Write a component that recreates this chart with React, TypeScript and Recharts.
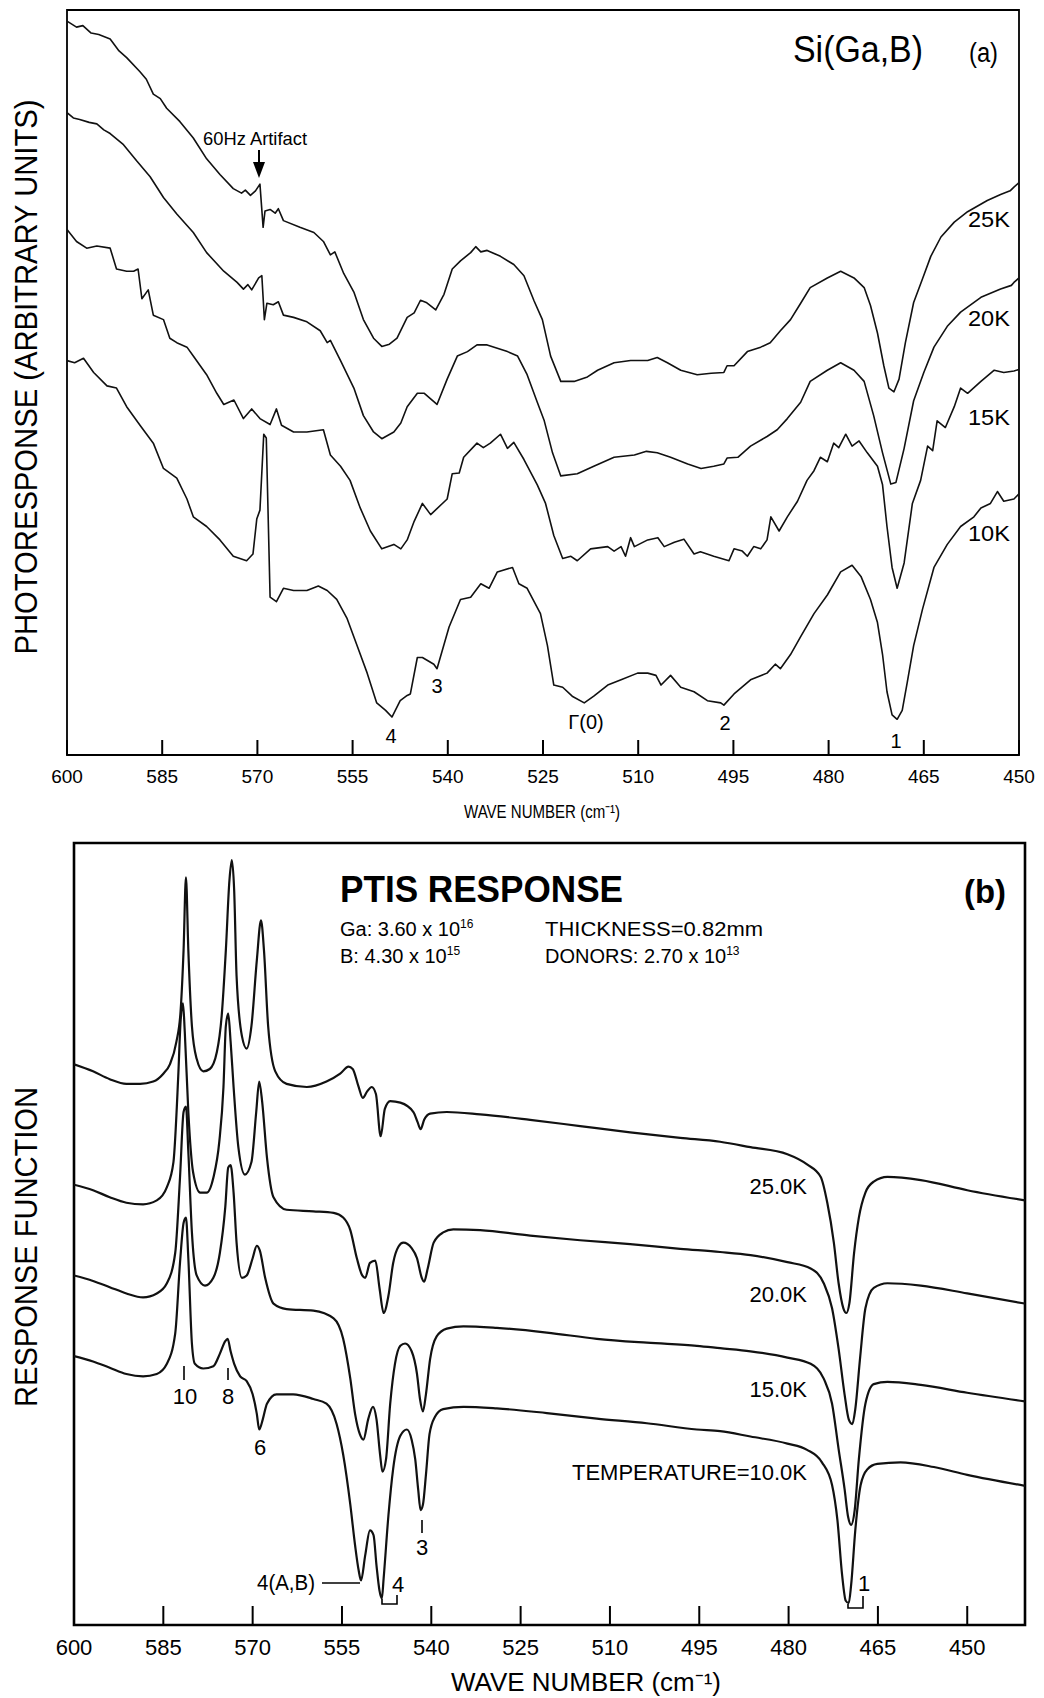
import React from 'react';
import { LineChart, Line, XAxis, YAxis, ReferenceArea } from 'recharts';

type Pt = [number, number];

// (a) measured photoresponse: [wave number cm-1, arbitrary units]
const a25K: Pt[] = [
  [600, 98.6], [598.5, 97.8], [597.5, 98.0], [596.2, 97.0], [595, 96.8], [593.2, 96.2], [591.8, 94.6], [590.6, 93.7],
  [588.5, 91.8], [587.5, 90.8], [586.4, 88.8], [585.3, 88.2], [584.3, 86.9], [582.2, 85.1], [580.1, 82.9], [578.0, 80.1],
  [575.9, 78.0], [573.8, 76.1], [572.5, 75.5], [571.9, 75.9], [571.1, 75.2], [570.3, 75.8], [569.6, 76.7], [569.1, 70.9],
  [568.8, 73.1], [568.0, 73.3], [567.2, 72.8], [566.7, 73.4], [565.9, 71.8], [563.3, 70.9], [561.1, 70.2], [559.6, 69.0],
  [558.5, 67.2], [557.8, 67.6], [556.4, 64.7], [554.8, 62.2], [553.3, 58.5], [551.7, 56.0], [550.4, 54.9], [549.2, 55.2],
  [548.0, 56.0], [546.4, 58.8], [545.3, 59.4], [544.3, 61.1], [543.4, 60.8], [541.9, 59.8], [540.6, 61.9], [539.3, 65.3],
  [538.0, 66.4], [536.4, 67.5], [535.6, 68.3], [534.8, 67.6], [533.8, 67.8], [531.7, 67.0], [529.6, 65.9], [528.0, 64.4],
  [526.4, 61.0], [525.1, 58.5], [523.8, 53.6], [522.2, 50.2], [520.1, 50.2], [518.0, 50.8], [516.4, 51.7], [513.8, 52.7],
  [511.2, 53.0], [508.5, 53.0], [507.0, 53.4], [505.4, 52.7], [503.3, 51.7], [500.7, 51.1], [498.5, 51.3], [496.5, 51.4],
  [496.0, 52.3], [494.9, 52.3], [492.8, 54.2], [490.7, 54.8], [489.2, 55.4], [487.6, 57.0], [486.0, 58.5], [484.4, 60.7],
  [482.9, 62.8], [480.2, 64.1], [478.1, 65.0], [476.0, 64.1], [474.4, 62.8], [473.4, 60.4], [472.3, 56.7], [471.3, 52.3],
  [470.5, 49.3], [469.7, 48.8], [468.9, 50.5], [467.9, 55.4], [466.6, 60.8], [465.2, 64.0], [463.9, 67.0], [462.3, 69.6],
  [460.2, 71.6], [458.1, 73.0], [455.0, 74.5], [452.9, 75.3], [451.4, 75.8], [450.8, 76.3], [450.0, 76.9],
];
const a20K: Pt[] = [
  [600, 86.3], [599, 85.6], [598, 85.4], [596.5, 85.0], [595.3, 84.8], [594.2, 84.0], [593.2, 83.5], [591.1, 82.0],
  [589.0, 79.8], [586.9, 77.7], [584.8, 74.9], [582.7, 72.7], [580.1, 70.2], [578.0, 67.5], [575.3, 65.0], [573.2, 63.5],
  [572.2, 62.6], [571.5, 63.2], [570.9, 62.5], [569.8, 64.1], [569.3, 64.4], [568.9, 58.5], [568.5, 60.7], [567.5, 60.5],
  [566.7, 60.9], [565.9, 59.1], [564.3, 58.8], [562.2, 58.2], [560.1, 57.0], [559.0, 55.4], [558.5, 55.7], [556.9, 53.0],
  [554.8, 49.3], [553.3, 45.6], [551.7, 43.4], [550.4, 42.5], [548.5, 43.4], [547.4, 44.6], [546.4, 46.8], [544.8, 48.6],
  [543.7, 48.6], [541.7, 47.1], [540.1, 50.5], [538.5, 53.6], [536.9, 54.2], [535.4, 55.1], [533.8, 55.1], [530.6, 54.2],
  [529.0, 53.6], [527.5, 51.1], [525.9, 47.4], [524.8, 44.9], [523.5, 40.6], [522.2, 37.5], [519.6, 37.8], [517.0, 38.8],
  [513.8, 40.0], [510.6, 40.3], [508.7, 40.8], [507.0, 40.6], [504.9, 40.0], [502.2, 39.1], [500.1, 38.5], [498.1, 38.8],
  [496.5, 39.1], [496.0, 39.9], [494.3, 40.0], [492.3, 41.5], [489.7, 42.8], [488.1, 43.7], [486.5, 45.2], [484.4, 47.4],
  [482.9, 50.2], [480.2, 51.7], [478.1, 52.7], [476.0, 51.7], [474.4, 50.2], [472.9, 45.6], [471.5, 40.6], [470.2, 36.4],
  [469.4, 36.6], [468.1, 41.2], [466.6, 47.6], [465.0, 51.4], [463.4, 54.8], [461.3, 57.6], [459.2, 59.5], [456.0, 61.5],
  [452.9, 62.6], [451.2, 63.1], [450.8, 63.5], [450.0, 64.1],
];
const a15K: Pt[] = [
  [600, 70.6], [598.5, 69.0], [596.9, 68.1], [595.3, 68.4], [593.2, 68.1], [592.2, 65.3], [590.6, 65.0], [589.5, 65.0],
  [588.8, 65.3], [588.2, 61.3], [587.2, 62.5], [586.4, 59.1], [584.8, 58.5], [583.8, 56.0], [582.7, 55.4], [581.1, 54.8],
  [580.1, 53.6], [578.0, 51.1], [576.4, 48.6], [575.3, 47.1], [573.7, 47.7], [572.2, 45.2], [570.9, 46.5], [569.6, 45.2],
  [568.0, 44.4], [567.0, 46.5], [566.2, 44.3], [564.3, 43.4], [562.2, 43.4], [559.6, 43.7], [558.5, 40.3], [556.9, 38.8],
  [555.4, 36.9], [553.8, 33.2], [552.2, 30.1], [550.4, 27.7], [548.5, 28.3], [547.4, 27.7], [546.4, 28.9], [545.3, 31.4],
  [544.0, 33.8], [542.7, 32.3], [540.1, 34.4], [539.3, 37.8], [538.2, 37.9], [537.5, 40.0], [535.4, 41.9], [534.4, 41.3],
  [533.3, 41.9], [531.7, 43.1], [530.6, 41.2], [529.6, 42.0], [528.0, 39.7], [525.9, 36.3], [524.6, 33.8], [523.3, 29.5],
  [521.9, 26.4], [520.6, 26.7], [519.6, 26.1], [517.5, 27.7], [514.8, 28.0], [513.8, 27.4], [512.7, 28.0], [512.0, 26.7],
  [511.2, 29.2], [510.6, 28.0], [508.5, 28.9], [506.9, 29.2], [505.9, 28.0], [504.3, 28.6], [502.8, 29.0], [501.2, 27.0],
  [500.2, 27.3], [498.1, 26.7], [495.7, 26.1], [494.9, 27.7], [493.6, 27.4], [492.8, 26.7], [491.8, 28.0], [490.7, 27.7],
  [489.7, 28.9], [489.1, 32.0], [487.8, 30.1], [486.5, 32.0], [484.9, 34.1], [483.4, 36.9], [482.3, 38.2], [481.3, 40.0],
  [480.2, 39.4], [479.2, 41.9], [478.4, 41.3], [477.3, 43.1], [476.3, 41.5], [475.2, 42.2], [473.9, 40.6], [472.3, 38.8],
  [471.5, 36.3], [470.8, 30.7], [470.0, 25.2], [469.2, 22.4], [468.1, 25.8], [466.8, 33.8], [465.5, 36.9], [464.4, 41.5],
  [463.6, 40.9], [462.9, 44.9], [461.6, 44.0], [460.2, 46.8], [459.2, 49.3], [458.1, 48.6], [456.0, 50.2], [453.9, 51.7],
  [452.4, 51.4], [450.8, 51.6], [450.0, 51.8],
];
const a10K: Pt[] = [
  [600, 53.0], [598.8, 52.7], [597.4, 53.3], [595.8, 51.4], [593.7, 49.6], [592.2, 49.3], [590.6, 46.8], [588.5, 44.3],
  [586.4, 41.9], [584.8, 38.5], [582.7, 37.2], [581.1, 34.4], [580.1, 32.0], [578.0, 30.7], [575.9, 28.9], [573.8, 26.7],
  [571.7, 26.1], [570.7, 27.0], [570.1, 31.7], [569.6, 32.9], [569.0, 43.1], [568.6, 42.6], [568.0, 21.2], [567.0, 20.6],
  [565.9, 22.4], [564.3, 22.1], [562.2, 22.1], [560.4, 22.7], [559.0, 22.1], [557.5, 20.9], [555.9, 18.4], [554.3, 14.7],
  [552.7, 11.0], [551.2, 7.0], [549.8, 6.0], [548.8, 5.1], [547.5, 7.3], [546.4, 8.0], [545.9, 8.2], [544.8, 13.1],
  [544.0, 13.1], [542.2, 12.2], [541.7, 11.6], [539.8, 17.2], [538.0, 20.9], [536.4, 21.2], [534.8, 23.0], [533.5, 22.4],
  [532.2, 24.6], [529.8, 25.2], [528.8, 23.0], [527.5, 22.4], [525.4, 19.0], [524.3, 14.7], [523.3, 9.4], [521.9, 9.1],
  [520.4, 7.9], [518.5, 7.0], [517.0, 7.9], [514.8, 9.4], [512.7, 10.1], [510.1, 11.0], [508.5, 11.0], [507.2, 10.7],
  [506.4, 9.4], [504.9, 10.7], [503.3, 9.1], [501.2, 8.5], [499.1, 7.3], [497.0, 7.0], [496.5, 6.7], [494.9, 8.2],
  [492.3, 10.1], [489.7, 11.0], [488.4, 12.2], [487.6, 11.6], [486.0, 13.5], [484.4, 15.9], [482.3, 19.0], [480.2, 21.5],
  [478.1, 24.6], [476.3, 25.5], [474.9, 24.0], [473.4, 20.9], [472.3, 17.8], [471.5, 13.5], [470.8, 8.5], [470.0, 5.4],
  [469.2, 4.8], [468.4, 6.0], [467.6, 9.8], [466.6, 14.7], [465.2, 19.6], [463.4, 25.2], [461.3, 28.3], [459.2, 30.7],
  [457.1, 32.0], [456.0, 33.2], [454.5, 33.8], [453.4, 35.4], [452.4, 34.1], [450.8, 34.4], [450.0, 35.1],
];

// (b) computed PTIS response function
const b25K: Pt[] = [
  [600, 71.7], [596.8, 70.8], [594.0, 69.8], [591.2, 69.2], [588.9, 69.2], [586.7, 69.5], [585.0, 70.5], [583.9, 71.7],
  [582.8, 74.6], [582.1, 78.5], [581.6, 86.3], [581.2, 95.6], [580.8, 86.3], [580.2, 76.6], [579.4, 72.4], [578.3, 70.8],
  [577.2, 71.1], [576.0, 73.3], [575.2, 77.9], [574.5, 86.3], [573.9, 95.2], [573.5, 97.8], [573.1, 93.9], [572.7, 83.0],
  [571.8, 75.3], [571.0, 73.7], [570.2, 76.6], [569.3, 85.0], [568.6, 90.1], [568.1, 86.3], [567.4, 76.6], [566.2, 70.8],
  [564.3, 69.2], [560.9, 68.8], [557.6, 69.5], [555.3, 70.5], [553.9, 71.4], [553.2, 71.1], [552.2, 68.8], [551.5, 67.4],
  [550.8, 68.2], [550.0, 68.8], [549.3, 67.9], [548.5, 62.5], [547.8, 66.0], [546.9, 67.0], [545.2, 66.8], [543.0, 65.6],
  [542.3, 64.3], [541.8, 63.4], [541.2, 64.6], [540.2, 65.4], [537.4, 65.6], [531.8, 65.3], [523.4, 64.6], [515.0, 63.8],
  [506.6, 63.0], [498.2, 62.3], [491.5, 61.8], [486.4, 61.1], [480.2, 60.2], [476.9, 58.9], [474.6, 57.3], [473.5, 54.0],
  [472.4, 48.9], [471.6, 43.7], [470.8, 40.5], [470.3, 39.9], [469.8, 41.1], [469.0, 47.6], [468.2, 52.1], [467.1, 55.3],
  [465.7, 56.7], [463.4, 57.3], [457.8, 56.9], [450.0, 55.6], [440.3, 54.3],
];
const b20K: Pt[] = [
  [600, 56.3], [596.8, 55.6], [594.0, 54.7], [591.2, 54.0], [588.4, 53.8], [586.1, 54.3], [584.4, 56.0], [583.3, 59.2],
  [582.5, 70.1], [582.1, 77.2], [581.7, 79.5], [581.4, 75.9], [580.8, 65.6], [580.0, 57.9], [578.8, 55.3], [577.7, 55.3],
  [576.6, 57.2], [575.6, 61.8], [574.9, 68.8], [574.5, 76.6], [574.1, 78.2], [573.7, 74.6], [573.2, 68.8], [572.4, 61.1],
  [571.3, 57.6], [570.2, 59.2], [569.4, 65.6], [568.9, 69.5], [568.4, 66.9], [567.6, 59.8], [566.5, 54.7], [564.3, 53.1],
  [559.8, 52.9], [556.4, 52.7], [554.8, 52.1], [553.6, 50.5], [552.5, 46.9], [551.6, 44.7], [551.1, 44.4], [550.3, 46.3],
  [549.4, 46.6], [548.7, 43.1], [548.0, 39.9], [547.2, 42.1], [546.4, 46.3], [545.5, 48.4], [544.7, 48.9], [543.3, 48.2],
  [542.4, 46.9], [541.6, 44.4], [541.2, 43.9], [540.6, 45.6], [539.6, 48.9], [538.0, 50.2], [536.3, 50.6], [531.8, 50.5],
  [523.4, 49.8], [515.0, 49.2], [506.6, 48.7], [498.2, 48.1], [491.5, 47.7], [486.4, 47.3], [480.2, 46.4], [476.3, 45.6],
  [474.1, 43.7], [472.7, 40.5], [471.6, 35.3], [470.6, 29.5], [469.9, 26.3], [469.3, 25.7], [468.8, 27.6], [468.0, 34.1],
  [467.1, 40.5], [465.7, 43.1], [463.4, 43.7], [457.8, 43.4], [450.0, 42.4], [440.3, 41.1],
];
const b15K: Pt[] = [
  [600, 44.7], [596.8, 44.0], [594.0, 43.2], [591.2, 42.4], [588.4, 41.9], [586.1, 42.4], [584.4, 43.7], [583.0, 47.6],
  [582.2, 57.2], [581.6, 65.6], [581.2, 66.3], [580.8, 60.5], [580.2, 50.2], [579.4, 44.7], [578.0, 43.4], [576.6, 44.4],
  [575.5, 47.6], [574.6, 53.4], [574.1, 58.5], [573.7, 58.8], [573.2, 55.3], [572.7, 48.9], [571.8, 44.4], [571.0, 44.7],
  [570.0, 46.9], [569.3, 48.5], [568.8, 47.9], [567.9, 44.4], [566.5, 41.1], [564.3, 40.4], [559.8, 40.2], [556.4, 39.2],
  [554.8, 36.6], [553.6, 31.5], [552.8, 27.0], [552.0, 24.4], [551.4, 23.7], [550.6, 26.3], [549.8, 27.9], [549.2, 26.3],
  [548.6, 21.8], [548.2, 19.6], [547.6, 21.2], [546.9, 28.3], [546.1, 33.4], [545.2, 35.7], [544.4, 36.0], [543.3, 35.0],
  [542.4, 32.1], [541.9, 28.9], [541.4, 27.3], [540.9, 29.5], [540.2, 34.0], [539.1, 36.9], [537.4, 37.9], [534.6, 38.2],
  [529.0, 38.0], [520.6, 37.4], [512.2, 36.6], [503.8, 36.1], [495.4, 35.7], [491.5, 35.4], [486.4, 35.0], [480.2, 34.2],
  [476.3, 33.4], [474.1, 31.5], [472.7, 28.3], [471.6, 22.5], [470.6, 17.4], [470.0, 13.8], [469.5, 12.8], [468.9, 14.7],
  [468.2, 21.2], [467.1, 28.3], [465.7, 30.8], [463.4, 31.1], [457.8, 30.7], [450.0, 29.7], [440.3, 28.6],
];
const b10K: Pt[] = [
  [600, 34.4], [596.8, 33.7], [594.0, 32.9], [591.2, 32.1], [588.4, 31.8], [586.1, 32.1], [584.4, 33.4], [583.0, 37.3],
  [582.2, 46.3], [581.6, 51.4], [581.2, 52.1], [580.8, 46.9], [580.2, 36.0], [579.7, 33.4], [578.3, 32.8], [576.6, 33.1],
  [575.5, 34.7], [574.6, 36.3], [574.2, 36.6], [573.7, 35.0], [573.1, 33.4], [572.1, 31.8], [571.0, 31.2], [570.0, 29.5],
  [569.3, 27.0], [568.9, 25.0], [568.3, 26.3], [567.6, 28.3], [566.0, 29.5], [563.2, 29.5], [559.8, 28.9], [557.6, 28.3],
  [555.9, 25.7], [554.8, 21.8], [553.6, 15.4], [552.8, 10.2], [552.2, 7.0], [551.8, 5.7], [551.1, 8.9], [550.3, 12.1],
  [549.7, 11.5], [549.2, 7.6], [548.7, 4.4], [548.3, 3.4], [548.0, 6.0], [547.2, 14.0], [546.4, 20.0], [545.2, 24.2],
  [544.1, 25.0], [543.3, 23.7], [542.7, 21.2], [542.2, 17.3], [541.8, 14.7], [541.4, 15.4], [540.9, 19.2], [540.3, 24.4],
  [539.4, 26.6], [538.0, 27.6], [534.6, 27.9], [529.0, 27.7], [520.6, 27.1], [512.2, 26.4], [503.8, 25.8], [495.4, 25.0],
  [491.5, 24.8], [486.4, 24.1], [480.2, 23.2], [476.9, 22.4], [474.4, 20.8], [472.7, 17.9], [471.8, 13.4], [471.0, 6.3],
  [470.4, 3.1], [469.9, 2.8], [469.5, 5.1], [468.8, 12.1], [467.9, 17.9], [466.8, 19.9], [465.1, 20.6], [461.2, 20.8],
  [455.6, 20.2], [450.0, 19.2], [440.3, 17.8],
];

const seriesA = [a25K, a20K, a15K, a10K];
const seriesB = [b25K, b20K, b15K, b10K];
const ticks = [600, 585, 570, 555, 540, 525, 510, 495, 480, 465, 450];
const innerTicks = [585, 570, 555, 540, 525, 510, 495, 480, 465];

const FONT = '"Liberation Sans", Arial, Helvetica, sans-serif';

const toRows = (pts: Pt[]) => pts.map(([wn, v]) => ({ wn, v }));

// tick mark drawn inward from the frame, label (optional) below the axis
function inwardTick(len: number, down: boolean, fontSize = 0, dy = 0) {
  return (props: any) => {
    const { x, y, payload } = props;
    return (
      <g>
        <line x1={x} x2={x} y1={y} y2={down ? y + len : y - len} stroke="#000" strokeWidth={2} />
        {fontSize > 0 && (
          <text x={x} y={y + dy} textAnchor="middle" fontSize={fontSize} fontFamily={FONT} fill="#000">
            {payload.value}
          </text>
        )}
      </g>
    );
  };
}

function Spectra({ series, lo, yMax, width, height, margin, axisH, tickLen, tickFont, tickDy, frameW, lineW, curve }: any) {
  return (
    <LineChart width={width} height={height} margin={margin}>
      <XAxis xAxisId="b" type="number" dataKey="wn" domain={[lo, 600]} reversed allowDataOverflow
        ticks={ticks} interval={0} height={axisH} axisLine={false} tickLine={false} tickSize={0} tickMargin={0}
        tick={inwardTick(tickLen, false, tickFont, tickDy)} />
      <XAxis xAxisId="t" orientation="top" type="number" dataKey="wn" domain={[lo, 600]} reversed allowDataOverflow
        ticks={innerTicks} interval={0} height={0} axisLine={false} tickLine={false} tickSize={0} tickMargin={0}
        tick={inwardTick(tickLen, true)} />
      <YAxis yAxisId="y" type="number" domain={[0, yMax]} allowDataOverflow hide />
      <ReferenceArea xAxisId="b" yAxisId="y" x1={lo} x2={600} y1={0} y2={yMax} fill="none"
        stroke="#000" strokeWidth={frameW} ifOverflow="visible" />
      {series.map((pts: Pt[], i: number) => (
        <Line key={i} xAxisId="b" yAxisId="y" data={toRows(pts)} dataKey="v" type={curve}
          stroke="#111" strokeWidth={lineW} strokeLinejoin="round" dot={false} activeDot={false}
          isAnimationActive={false} />
      ))}
    </LineChart>
  );
}

function Sup({ children }: { children: React.ReactNode }) {
  return <tspan fontSize="0.6em" dy={-8}>{children}</tspan>;
}

function Annotations() {
  const t = { fontFamily: FONT, fill: '#000' } as const;
  const ln = { stroke: '#000', strokeWidth: 1.6, fill: 'none' } as const;
  return (
    <svg width={1044} height={1698} style={{ position: 'absolute', left: 0, top: 0, pointerEvents: 'none' }}>
      {/* panel (a) */}
      <text {...t} x={793} y={62} fontSize={36} textLength={130} lengthAdjust="spacingAndGlyphs">Si(Ga,B)</text>
      <text {...t} x={969} y={62} fontSize={27} textLength={29} lengthAdjust="spacingAndGlyphs">(a)</text>
      <text {...t} x={203} y={145} fontSize={19} textLength={104} lengthAdjust="spacingAndGlyphs">60Hz Artifact</text>
      <line x1={259} x2={259} y1={150} y2={166} stroke="#000" strokeWidth={2} />
      <path d="M253 162 L265 162 L259 178 Z" fill="#000" />
      <g fontSize={22} textAnchor="end">
        <text {...t} x={1010} y={227} textLength={42} lengthAdjust="spacingAndGlyphs">25K</text>
        <text {...t} x={1010} y={326} textLength={42} lengthAdjust="spacingAndGlyphs">20K</text>
        <text {...t} x={1010} y={425} textLength={42} lengthAdjust="spacingAndGlyphs">15K</text>
        <text {...t} x={1010} y={541} textLength={42} lengthAdjust="spacingAndGlyphs">10K</text>
      </g>
      <g fontSize={20} textAnchor="middle">
        <text {...t} x={391} y={743}>4</text>
        <text {...t} x={437} y={693}>3</text>
        <text {...t} x={586} y={729}>Γ(0)</text>
        <text {...t} x={725} y={730}>2</text>
        <text {...t} x={896} y={748}>1</text>
      </g>
      <text {...t} x={542} y={818} fontSize={19} textAnchor="middle" textLength={156} lengthAdjust="spacingAndGlyphs">
        WAVE NUMBER (cm⁻¹)
      </text>
      <text {...t} transform="translate(37,377) rotate(-90)" fontSize={31} textAnchor="middle"
        textLength={555} lengthAdjust="spacingAndGlyphs">PHOTORESPONSE (ARBITRARY UNITS)</text>

      {/* panel (b) */}
      <text {...t} x={340} y={902} fontSize={36} fontWeight="bold" textLength={283} lengthAdjust="spacingAndGlyphs">PTIS RESPONSE</text>
      <text {...t} x={964} y={903} fontSize={34} fontWeight="bold" textLength={42} lengthAdjust="spacingAndGlyphs">(b)</text>
      <g fontSize={20}>
        <text {...t} x={340} y={936}>Ga: 3.60 x 10<Sup>16</Sup></text>
        <text {...t} x={340} y={963}>B: 4.30 x 10<Sup>15</Sup></text>
        <text {...t} x={545} y={936} textLength={218} lengthAdjust="spacingAndGlyphs">THICKNESS=0.82mm</text>
        <text {...t} x={545} y={963}>DONORS: 2.70 x 10<Sup>13</Sup></text>
      </g>
      <g fontSize={22} textAnchor="end">
        <text {...t} x={807} y={1194}>25.0K</text>
        <text {...t} x={807} y={1302}>20.0K</text>
        <text {...t} x={807} y={1397}>15.0K</text>
        <text {...t} x={807} y={1480} textLength={235} lengthAdjust="spacingAndGlyphs">TEMPERATURE=10.0K</text>
      </g>
      <g fontSize={22} textAnchor="middle">
        <line x1={184} x2={184} y1={1366} y2={1380} {...ln} />
        <text {...t} x={185} y={1404}>10</text>
        <line x1={228} x2={228} y1={1368} y2={1380} {...ln} />
        <text {...t} x={228} y={1404}>8</text>
        <text {...t} x={260} y={1455}>6</text>
        <line x1={422} x2={422} y1={1520} y2={1533} {...ln} />
        <text {...t} x={422} y={1555}>3</text>
        <text {...t} x={286} y={1590} textLength={58} lengthAdjust="spacingAndGlyphs">4(A,B)</text>
        <line x1={322} x2={360} y1={1583} y2={1583} {...ln} />
        <path d="M382 1599 V1604 H397 V1595" {...ln} />
        <text {...t} x={398} y={1592}>4</text>
        <path d="M848 1604 V1608 H863 V1596" {...ln} />
        <text {...t} x={864} y={1591}>1</text>
      </g>
      <text {...t} x={586} y={1691} fontSize={26} textAnchor="middle" textLength={270} lengthAdjust="spacingAndGlyphs">
        WAVE NUMBER (cm⁻¹)
      </text>
      <text {...t} transform="translate(37,1247) rotate(-90)" fontSize={31} textAnchor="middle"
        textLength={320} lengthAdjust="spacingAndGlyphs">RESPONSE FUNCTION</text>
    </svg>
  );
}

export default function App() {
  return (
    <div style={{ position: 'absolute', left: 0, top: 0, width: 1044, height: 1698, background: '#fff', fontFamily: FONT }}>
      <div style={{ position: 'absolute', left: 0, top: 0 }}>
        <Spectra series={seriesA} lo={450} yMax={100.1} width={1044} height={830}
          margin={{ top: 10, right: 25, bottom: 0, left: 67 }} axisH={75}
          tickLen={15} tickFont={19} tickDy={28} frameW={1.8} lineW={1.6} curve="linear" />
      </div>
      <div style={{ position: 'absolute', left: 0, top: 800 }}>
        <Spectra series={seriesB} lo={440.3} yMax={100} width={1044} height={898}
          margin={{ top: 43, right: 19, bottom: 0, left: 74 }} axisH={73}
          tickLen={19} tickFont={22} tickDy={30} frameW={2.6} lineW={2.2} curve="monotone" />
      </div>
      <Annotations />
    </div>
  );
}
